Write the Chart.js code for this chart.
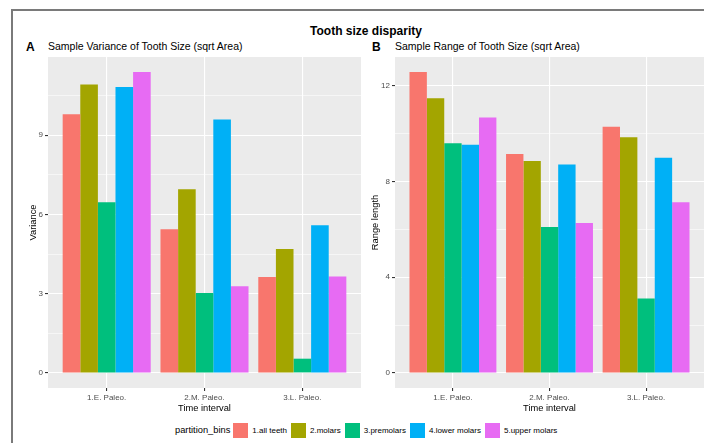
<!DOCTYPE html>
<html>
<head>
<meta charset="utf-8">
<script src="https://cdn.jsdelivr.net/npm/chart.js@4/dist/chart.umd.min.js"></script>
<style>
  body { margin: 0; width: 704px; height: 443px; background: #fff; position: relative; overflow: hidden;
         font-family: "Liberation Sans", Arial, sans-serif; color: #000; }
  #frame { position: absolute; left: 11px; top: 9px; width: 720px; height: 460px;
           border-left: 2px solid #7a7a7a; border-top: 2px solid #7a7a7a; }
  .txt { position: absolute; white-space: nowrap; line-height: 1; }
  #title { left: 0; width: 732px; text-align: center; top: 25px; font-size: 12px; font-weight: bold; }
  .tag { font-size: 12px; font-weight: bold; top: 41px; }
  .sub { font-size: 10.5px; top: 41px; }
  canvas { position: absolute; top: 50px; }
  #legend { position: absolute; left: 175px; top: 422px; height: 16px; display: flex; align-items: center;
            font-size: 8px; white-space: nowrap; }
  #legend .ltitle { font-size: 9.3px; margin-right: 3px; }
  #legend .sw { width: 15px; height: 15px; margin-right: 4px; }
  #legend .lab { margin-right: 4px; }
</style>
</head>
<body>
<div id="frame"></div>
<div class="txt" id="title">Tooth size disparity</div>
<div class="txt tag" style="left:26px">A</div>
<div class="txt sub" style="left:48px">Sample Variance of Tooth Size (sqrt Area)</div>
<div class="txt tag" style="left:372px">B</div>
<div class="txt sub" style="left:395px">Sample Range of Tooth Size (sqrt Area)</div>
<canvas id="chartA" width="362" height="364" style="left:0px"></canvas>
<canvas id="chartB" width="342" height="364" style="left:362px"></canvas>
<div id="legend"><span class="ltitle">partition_bins</span></div>
<script>
const timeBins = ['1.E. Paleo.', '2.M. Paleo.', '3.L. Paleo.'];
const partitionBins = ['1.all teeth', '2.molars', '3.premolars', '4.lower molars', '5.upper molars'];
const binColors = ['#F8766D', '#A3A500', '#00BF7D', '#00B0F6', '#E76BF3'];

// panel A: sample variance, one value per time interval
const varAll = [9.79, 5.44, 3.63];
const varMolars = [10.92, 6.95, 4.69];
const varPremolars = [6.46, 3.03, 0.54];
const varLower = [10.82, 9.59, 5.59];
const varUpper = [11.39, 3.28, 3.65];

// panel B: sample range
const rangeAll = [12.58, 9.15, 10.29];
const rangeMolars = [11.48, 8.86, 9.85];
const rangePremolars = [9.6, 6.1, 3.11];
const rangeLower = [9.54, 8.71, 9.0];
const rangeUpper = [10.68, 6.27, 7.14];

const varTicks = [0, 3, 6, 9];
const varMinor = [1.5, 4.5, 7.5, 10.5];
const rangeTicks = [0, 4, 8, 12];
const rangeMinor = [2, 6, 10];

// grey ggplot panel behind the bars
const panelBg = {
  id: 'panelBg',
  beforeDraw(chart) {
    const { ctx, chartArea: a } = chart;
    ctx.save();
    ctx.fillStyle = '#EBEBEB';
    ctx.fillRect(a.left, a.top, a.right - a.left, a.bottom - a.top);
    ctx.restore();
  }
};

function makeChart(id, series, ticks, minor, yTitle, yWidth, yTitlePad, padRight) {
  const top = Math.max(...series.flat());
  const grid = ticks.concat(minor).sort((a, b) => a - b);
  const tickFont = { family: '"Liberation Sans", Arial, sans-serif', size: 8 };
  const titleFont = { family: '"Liberation Sans", Arial, sans-serif', size: 9.3 };
  return new Chart(document.getElementById(id), {
    type: 'bar',
    data: {
      datasets: series.map((vals, i) => ({
        label: partitionBins[i],
        data: vals.map((v, j) => ({ x: j + 1, y: v })),
        backgroundColor: binColors[i],
        borderWidth: 0,
        categoryPercentage: 0.9,
        barPercentage: 1
      }))
    },
    options: {
      responsive: false,
      animation: false,
      devicePixelRatio: 1,
      layout: { padding: { left: 0, top: 7, right: padRight, bottom: 0 } },
      plugins: { legend: { display: false }, tooltip: { enabled: false } },
      scales: {
        x: {
          type: 'linear',
          min: 0.4,
          max: 3.6,
          offset: false,
          afterBuildTicks: s => { s.ticks = timeBins.map((t, i) => ({ value: i + 1 })); },
          afterFit: s => { s.height = 26; },
          border: { display: false },
          grid: { offset: false, color: '#FFFFFF', lineWidth: 1.1, tickColor: '#333333', tickLength: 3 },
          ticks: {
            color: '#4D4D4D', font: tickFont, padding: 2, maxRotation: 0,
            callback: v => timeBins[Math.round(v) - 1]
          },
          title: { display: true, text: 'Time interval', color: '#000', font: titleFont, padding: 0 }
        },
        y: {
          min: -0.05 * top,
          max: 1.05 * top,
          afterBuildTicks: s => { s.ticks = grid.map(v => ({ value: v })); },
          afterFit: s => { s.width = yWidth; },
          border: { display: false },
          grid: {
            color: '#FFFFFF',
            lineWidth: c => ticks.includes(c.tick.value) ? 1.1 : 0.55,
            tickColor: c => ticks.includes(c.tick.value) ? '#333333' : 'rgba(0,0,0,0)',
            tickLength: 3
          },
          ticks: {
            color: '#4D4D4D', font: tickFont, padding: 2,
            callback: v => ticks.includes(v) ? String(v) : ''
          },
          title: { display: true, text: yTitle, color: '#000', font: titleFont,
                   padding: { top: yTitlePad, bottom: 0 } }
        }
      }
    },
    plugins: [panelBg]
  });
}

makeChart('chartA', [varAll, varMolars, varPremolars, varLower, varUpper],
  varTicks, varMinor, 'Variance', 48, 27.4, 1);
makeChart('chartB', [rangeAll, rangeMolars, rangePremolars, rangeLower, rangeUpper],
  rangeTicks, rangeMinor, 'Range length', 33, 7.4, 0);

// shared legend
const legend = document.getElementById('legend');
partitionBins.forEach((name, i) => {
  const sw = document.createElement('span');
  sw.className = 'sw';
  sw.style.background = binColors[i];
  const lab = document.createElement('span');
  lab.className = 'lab';
  lab.textContent = name;
  legend.appendChild(sw);
  legend.appendChild(lab);
});
</script>
</body>
</html>
